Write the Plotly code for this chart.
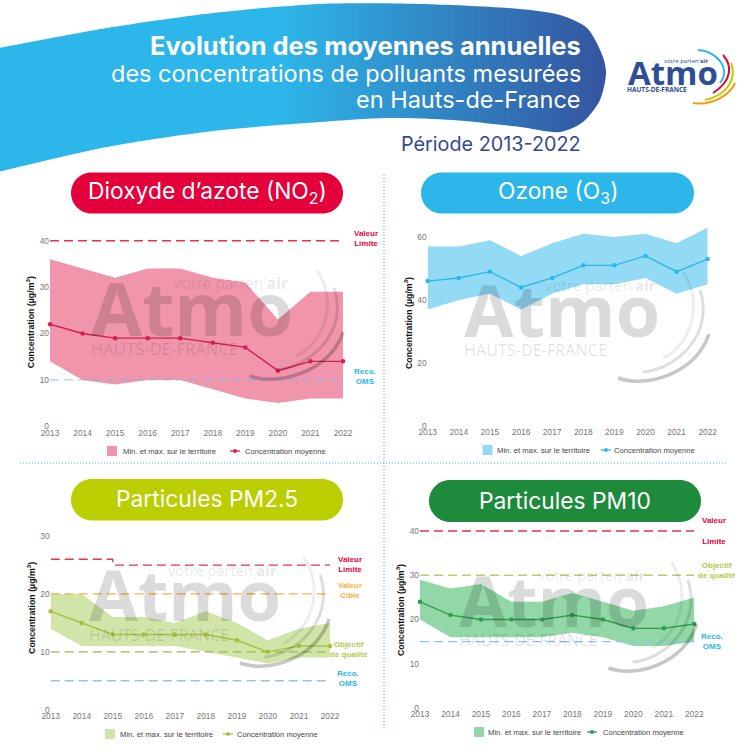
import plotly.graph_objects as go

# Données
annees = [2013, 2014, 2015, 2016, 2017, 2018, 2019, 2020, 2021, 2022]

no2_max = [36, 34, 32, 34, 34, 32, 31, 23, 29, 29]
no2_min = [14, 10, 9, 10, 10, 8, 6, 5, 6, 6]
no2_moy = [22, 20, 19, 19, 19, 18, 17, 12, 14, 14]
no2_limite = [40] * 10
no2_oms = [10] * 10

o3_max = [57, 57, 59, 54, 58, 61, 60, 61, 58, 63]
o3_min = [37, 40, 42, 37, 42, 45, 45, 47, 42, 45]
o3_moy = [46, 47, 49, 44, 47, 51, 51, 54, 49, 53]

pm25_max = [20, 20, 16, 16, 15, 17, 15, 12, 14, 15]
pm25_min = [14, 11, 11, 11, 11, 10, 9, 8, 9, 9]
pm25_moy = [17, 15, 13, 13, 13, 13, 12, 10, 11, 11]
pm25_limite = [26, 26, 25, 25, 25, 25, 25, 25, 25, 25]
pm25_cible = [20] * 10
pm25_objectif = [10] * 10
pm25_oms = [5] * 10

pm10_max = [29, 27, 28, 24, 24, 26, 24, 22, 23, 25]
pm10_min = [20, 16, 16, 16, 16, 17, 16, 14, 14, 15]
pm10_moy = [24, 21, 20, 20, 20, 21, 20, 18, 18, 19]
pm10_limite = [40] * 10
pm10_objectif = [30] * 10
pm10_oms = [15] * 10

rouge = "#E4003A"
cyan = "#2DB6E9"
vert_clair = "#BBCE00"
vert_fonce = "#1E8A3C"
bleu_fonce = "#34549F"
orange = "#F5B041"
gris = "#777777"
police_titre = "Inter"
police_graph = "Liberation Sans"

# Contour du bandeau d'en-tête, en pixels
bandeau_x = [-6, 107, 213, 320, 420, 520, 560, 587, 603, 606, 600, 583, 560, 520, 453, 387, 320, 213, 107, -6]
bandeau_y = [49, 28, 13, 4, 4, 9, 15, 28, 57, 73, 100, 122, 132, 127, 120, 118, 122, 131, 147, 173]

# x0, x1, y0, y1 du tracé en pixels ; haut = valeur en haut de l'axe
panneaux = [
    dict(titre="Dioxyde d’azote (NO<sub>2</sub>)", coul=rouge, bande="#F095AC", ligne="#D4204F",
         vmax=no2_max, vmin=no2_min, moy=no2_moy, ticks=[0, 10, 20, 30, 40], haut=44.9,
         zone=(50, 343, 218, 426.3), pilule=(71, 343, 172.5, 213.5), legende=(107, 121, 230, 243, 451),
         logo=(92, 333, 1.03),
         seuils=[(no2_limite, "#E8304F"), (no2_oms, "rgba(110,190,240,0.65)")],
         notes=[("Valeur<br>Limite", rouge, 366, 238), ("Reco.<br>OMS", cyan, 365, 376)]),
    dict(titre="Ozone (O<sub>3</sub>)", coul=cyan, bande="#93DAF5", ligne="#2DB6E9",
         vmax=o3_max, vmin=o3_min, moy=o3_moy, ticks=[0, 20, 40, 60], haut=65.4,
         zone=(427.7, 707.7, 220, 426), pilule=(421, 694, 172.5, 213.5), legende=(482.5, 495, 601, 612, 450),
         logo=(465, 335, 1.0), seuils=[], notes=[]),
    dict(titre="Particules PM2.5", coul=vert_clair, bande="#D2E5A8", ligne="#A6C13F",
         vmax=pm25_max, vmin=pm25_min, moy=pm25_moy, ticks=[0, 10, 20, 30], haut=35.2,
         zone=(50.7, 330, 506, 709.7), pilule=(71, 343, 479, 520.5), legende=(105, 118, 223, 235, 734),
         logo=(90, 620, 0.98),
         seuils=[(pm25_limite, "#E8304F"), (pm25_cible, orange), (pm25_objectif, "#9DB84A"), (pm25_oms, "#8FC4EE")],
         notes=[("Valeur<br>Limite", rouge, 350, 564.5), ("Valeur<br>Cible", orange, 350, 590.5),
                ("Objectif<br>de qualité", "#B5C94F", 349, 649), ("Reco.<br>OMS", cyan, 348, 678.5)]),
    dict(titre="Particules PM10", coul=vert_fonce, bande="#92D8A6", ligne="#2E9B52",
         vmax=pm10_max, vmin=pm10_min, moy=pm10_moy, ticks=[0, 10, 20, 30, 40], haut=44.3,
         zone=(420, 694.3, 512, 708), pilule=(429, 701, 480, 522), legende=(474, 486, 587, 601, 732),
         logo=(460, 625, 0.97),
         seuils=[(pm10_limite, "#E8304F"), (pm10_objectif, "#B5D06A"), (pm10_oms, "#8FC4EE")],
         notes=[("Valeur<br><br>Limite", rouge, 714, 531), ("Objectif<br>de qualité", "#B5C94F", 717, 570.5),
                ("Reco.<br>OMS", cyan, 712, 641)]),
]

LARGEUR = 750
fig = go.Figure()
formes = []
textes = []


def texte(x, y, t, taille, coul, famille=police_graph, ancre="center"):
    textes.append(dict(x=x, y=y, xref="x", yref="y", text=t, showarrow=False, xanchor=ancre, yanchor="middle",
                       font=dict(size=taille, color=coul, family=famille)))


def arc(x0, y0, c1x, c1y, c2x, c2y, x1, y1, coul, ep):
    formes.append(dict(type="path", xref="x", yref="y", layer="above", line=dict(color=coul, width=ep),
                       path=f"M {x0} {y0} C {c1x} {c1y} {c2x} {c2y} {x1} {y1}"))


def pilule(x0, x1, y0, y1, coul):
    r = (y1 - y0) / 2
    k = r * 0.45
    chemin = (f"M {x0 + r} {y0} L {x1 - r} {y0} C {x1 - k} {y0} {x1} {y0 + k} {x1} {y0 + r} "
              f"C {x1} {y1 - k} {x1 - k} {y1} {x1 - r} {y1} L {x0 + r} {y1} "
              f"C {x0 + k} {y1} {x0} {y1 - k} {x0} {y0 + r} C {x0} {y0 + k} {x0 + k} {y0} {x0 + r} {y0} Z")
    formes.append(dict(type="path", xref="x", yref="y", layer="above", path=chemin, fillcolor=coul,
                       line=dict(width=0)))


def filigrane(ax, ay, e):
    # logo gris posé sur chaque graphique ; (ax, ay) = pied du A
    noir = "rgba(0,0,0,%s)"
    texte(ax - 3, ay - 26, "<b>Atmo</b>", 72 * e, noir % 0.14, "Open Sans", "left")
    texte(ax + 78 * e, ay - 50, "votre parten'<b>air</b>", 15 * e, noir % 0.10, "Open Sans", "left")
    texte(ax - 3, ay + 15, "HAUTS-DE-FRANCE", 16.2 * e, noir % 0.13, "Open Sans", "left")
    arc(ax + 198 * e, ay + 23, ax + 225 * e, ay + 10, ax + 240 * e, ay - 30, ax + 218 * e, ay - 63, noir % 0.07, 3)
    arc(ax + 178 * e, ay + 37, ax + 210 * e, ay + 35, ax + 250 * e, ay, ax + 235 * e, ay - 45, noir % 0.13, 3)
    arc(ax + 153 * e, ay + 43, ax + 180 * e, ay + 53, ax + 230 * e, ay + 40, ax + 244 * e, ay - 1, noir % 0.22, 3.5)


# Bandeau d'en-tête, sur un axe en pixels qui couvre toute la page
fig.add_trace(go.Scatter(
    x=bandeau_x, y=bandeau_y, mode="lines", line=dict(width=0, shape="spline", smoothing=0.8),
    fill="toself", fillgradient=dict(type="horizontal", colorscale=[[0, cyan], [0.47, cyan], [1, bleu_fonce]]),
    hoverinfo="skip", showlegend=False, xaxis="x", yaxis="y"))

axes = dict(
    xaxis=dict(domain=[0, 1], range=[0, LARGEUR], visible=False, fixedrange=True, automargin=False),
    yaxis=dict(domain=[0, 1], range=[LARGEUR, 0], visible=False, fixedrange=True, automargin=False),
)

for i, p in enumerate(panneaux):
    n = i + 2
    x0, x1, y0, y1 = p["zone"]
    xa, ya = f"x{n}", f"y{n}"
    axes[f"xaxis{n}"] = dict(
        domain=[x0 / LARGEUR, x1 / LARGEUR], range=[annees[0], annees[-1]], anchor=ya, automargin=False,
        tickvals=annees, ticks="", showgrid=False, zeroline=False, showline=False,
        tickfont=dict(size=8.4, color=gris, family=police_graph))
    axes[f"yaxis{n}"] = dict(
        domain=[1 - y1 / LARGEUR, 1 - y0 / LARGEUR], range=[0, p["haut"]], anchor=xa, automargin=False,
        tickvals=p["ticks"], ticks="", showgrid=False, zeroline=False, showline=False,
        tickfont=dict(size=8.4, color=gris, family=police_graph),
        title=dict(text="Concentration (µg/m<sup>3</sup>)", standoff=3,
                   font=dict(size=8.8, color="#111111", family=police_graph, weight="bold")))

    fig.add_trace(go.Scatter(x=annees, y=p["vmin"], mode="lines", line=dict(width=0), showlegend=False,
                             hoverinfo="skip", xaxis=xa, yaxis=ya))
    fig.add_trace(go.Scatter(x=annees, y=p["vmax"], mode="lines", line=dict(width=0), fill="tonexty",
                             fillcolor=p["bande"], name="Min. et max. sur le territoire",
                             showlegend=False, xaxis=xa, yaxis=ya))
    for valeurs, coul in p["seuils"]:
        fig.add_trace(go.Scatter(x=annees, y=valeurs, mode="lines", showlegend=False, hoverinfo="skip",
                                 line=dict(color=coul, width=1.3, dash="9px 5px", shape="hv"),
                                 cliponaxis=False, xaxis=xa, yaxis=ya))
    fig.add_trace(go.Scatter(x=annees, y=p["moy"], mode="lines+markers", name="Concentration moyenne",
                             line=dict(color=p["ligne"], width=1.4), marker=dict(color=p["ligne"], size=4.5),
                             cliponaxis=False, showlegend=False, xaxis=xa, yaxis=ya))

    # Titre du panneau
    px0, px1, py0, py1 = p["pilule"]
    pilule(px0, px1, py0, py1, p["coul"])
    texte((px0 + px1) / 2, (py0 + py1) / 2 - 1, p["titre"], 22.8, "white", police_titre)

    # Légende
    lx, ltx, lx2, ltx2, ly = p["legende"]
    formes.append(dict(type="rect", xref="x", yref="y", x0=lx, x1=lx + 10, y0=ly - 5, y1=ly + 5,
                       fillcolor=p["bande"], line=dict(width=0)))
    formes.append(dict(type="line", xref="x", yref="y", x0=lx2, x1=lx2 + 10, y0=ly, y1=ly,
                       line=dict(color=p["ligne"], width=1.3)))
    formes.append(dict(type="circle", xref="x", yref="y", x0=lx2 + 3, x1=lx2 + 7, y0=ly - 2, y1=ly + 2,
                       fillcolor=p["ligne"], line=dict(width=0)))
    texte(ltx, ly, "Min. et max. sur le territoire", 7.7, "#444444", ancre="left")
    texte(ltx2, ly, "Concentration moyenne", 7.6, "#444444", ancre="left")

    for t, coul, nx, ny in p["notes"]:
        texte(nx, ny, f"<b>{t}</b>", 8, coul)

    filigrane(*p["logo"])

# Séparateurs pointillés
formes.append(dict(type="line", xref="x", yref="y", x0=384, x1=384, y0=175, y1=728,
                   line=dict(color=cyan, width=1, dash="1px 2px")))
formes.append(dict(type="line", xref="x", yref="y", x0=20, x1=728, y0=463, y1=463,
                   line=dict(color=cyan, width=1, dash="1px 2px")))

# En-tête
texte(583, 45, "<b>Evolution des moyennes annuelles</b>", 25.5, "white", police_titre, "right")
texte(583, 73.5, "des concentrations de polluants mesurées", 23.5, "white", police_titre, "right")
texte(583, 99, "en Hauts-de-France", 23.5, "white", police_titre, "right")
texte(583, 144, "Période 2013-2022", 19.8, "#34478F", police_titre, "right")

# Logo
bleu_logo = "#2F4E9A"
texte(626, 72, "<b>Atmo</b>", 33, bleu_logo, "Open Sans", "left")
texte(662, 61, "votre parten'<b>air</b>", 6, bleu_logo, "Open Sans", "left")
texte(625, 89, "<b>HAUTS-DE-FRANCE</b>", 6.5, bleu_logo, "Open Sans", "left")
arc(698, 50, 715, 50, 732, 68, 720, 83, cyan, 2)
arc(723, 55, 732, 65, 733, 80, 713, 93, rouge, 2)
arc(731, 63, 737, 78, 728, 95, 705, 100, vert_clair, 2)
arc(735, 83, 730, 95, 712, 106, 693, 103, "#F39C12", 2)

fig.update_layout(
    width=LARGEUR,
    height=LARGEUR,
    margin=dict(l=0, r=0, t=0, b=0),
    paper_bgcolor="white",
    plot_bgcolor="rgba(0,0,0,0)",
    showlegend=False,
    shapes=formes,
    annotations=textes,
    **axes,
)

# la page garde sinon la marge par défaut du navigateur
fig.write_html("out.html", post_script="document.body.style.margin = '0';", config={"displayModeBar": False})
